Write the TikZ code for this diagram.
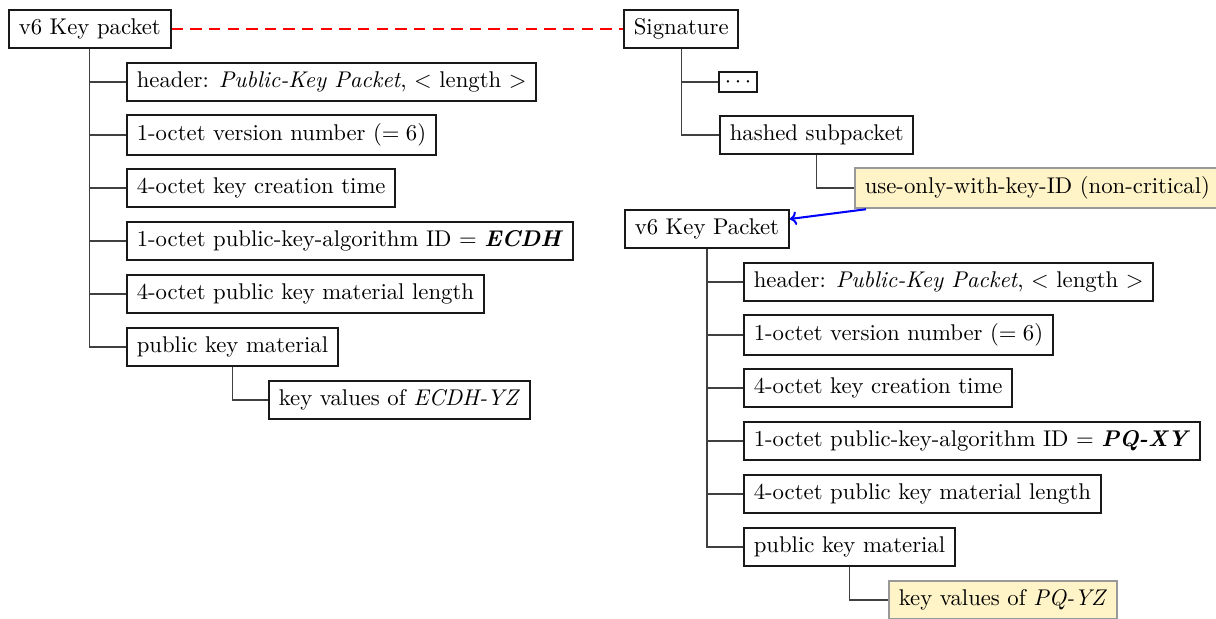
\documentclass[tikz,border=0pt]{standalone}
\usetikzlibrary{calc,arrows.meta}
\definecolor{notefill}{RGB}{255,244,200}
\tikzset{
  pkt/.style={draw=black!90, line width=0.9pt, inner xsep=4.3pt, inner ysep=3.9pt, anchor=west, fill=white},
  note/.style={pkt, draw=black!40, fill=notefill},
  elided/.style={pkt, inner sep=0pt, minimum width=16.7pt, minimum height=8.8pt},
  branch/.style={draw=black!75, line width=0.55pt},
  link/.style={draw=red, line width=1pt, dash pattern=on 5pt off 3.2pt},
  ref/.style={draw=blue, line width=0.9pt, -{To[length=3pt,width=6pt]}},
}
\begin{document}
\begin{tikzpicture}[x=0.44pt, y=-0.44pt]
\useasboundingbox (0,0) rectangle (1216,619);

% left tree: the ECDH key packet
\node[pkt] (ka) at (8,29) {v6 Key packet};
\node[pkt] (ka1) at (126,82) {header: \textit{Public-Key Packet}, $<$ length $>$};
\node[pkt] (ka2) at (126,135) {1-octet version number ($=6$)};
\node[pkt] (ka3) at (126,188) {4-octet key creation time};
\node[pkt] (ka4) at (126,241) {1-octet public-key-algorithm ID $=$ \textbf{\textit{ECDH}}};
\node[pkt] (ka5) at (126,294) {4-octet public key material length};
\node[pkt] (ka6) at (126,347) {public key material};
\node[pkt] (ka7) at (268,400) {key values of \textit{ECDH-YZ}};

\foreach \c in {ka1,ka2,ka3,ka4,ka5,ka6}
  \draw[branch] (ka.south) |- (\c.west);
\draw[branch] (ka6.south) |- (ka7.west);

% right tree: the signature and the referenced PQ key packet
\node[pkt] (sig) at (623,29) {Signature};
\node[elided] (sg1) at (718,82) {$\cdots$};
\node[pkt] (sg2) at (719,135) {hashed subpacket};
\node[note] (sg3) at (854,188) {use-only-with-key-ID (non-critical)};

\draw[branch] (sig.south) |- (sg1.west);
\draw[branch] (sig.south) |- (sg2.west);
\draw[branch] (sg2.south) |- (sg3.west);

\node[pkt] (kb) at (624,229) {v6 Key Packet};
\node[pkt] (kb1) at (743,282) {header: \textit{Public-Key Packet}, $<$ length $>$};
\node[pkt] (kb2) at (743,335) {1-octet version number ($=6$)};
\node[pkt] (kb3) at (743,388) {4-octet key creation time};
\node[pkt] (kb4) at (743,441) {1-octet public-key-algorithm ID $=$ \textbf{\textit{PQ-XY}}};
\node[pkt] (kb5) at (743,494) {4-octet public key material length};
\node[pkt] (kb6) at (743,547) {public key material};
\node[note] (kb7) at (888,600) {key values of \textit{PQ-YZ}};

\foreach \c in {kb1,kb2,kb3,kb4,kb5,kb6}
  \draw[branch] (kb.south) |- (\c.west);
\draw[branch] (kb6.south) |- (kb7.west);

% cross links
\draw[link] (ka.east) -- (sig.west);
\draw[ref] ($(sg3.south west)+(12,0)$) -- ($(kb.east)+(0,-10)$);
\end{tikzpicture}
\end{document}
